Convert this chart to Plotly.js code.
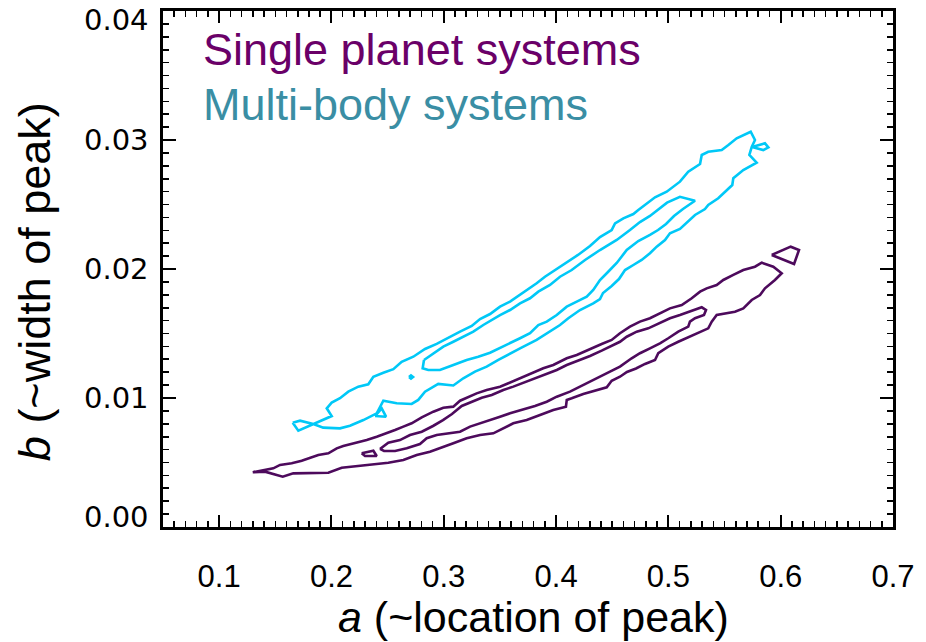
<!DOCTYPE html>
<html>
<head>
<meta charset="utf-8">
<script src="https://cdn.plot.ly/plotly-3.0.1.min.js"></script>
<style>
  html, body { margin: 0; padding: 0; background: #fff; }
  #chart { width: 926px; height: 642px; }
</style>
</head>
<body>
<div id="chart"></div>
<script>
// Posterior contours of the peak parameters a (location) and b (width).

// Multi-body systems: outer confidence contour
const multiOuterA = [0.1655,0.1720,0.1838,0.1927,0.2076,0.2165,0.2284,0.2403,0.2462,0.2581,0.2714,0.2773,0.2833,0.2951,0.3085,0.3174,0.3278,0.3382,0.3486,0.3590,0.3679,0.3827,0.3946,0.4035,0.4109,0.4213,0.4331,0.4391,0.4418,0.4495,0.4560,0.4614,0.4688,0.4762,0.4836,0.4896,0.4970,0.5014,0.5103,0.5192,0.5237,0.5326,0.5355,0.5444,0.5504,0.5569,0.5578,0.5667,0.5786,0.5721,0.5742,0.5771,0.5733,0.5608,0.5534,0.5475,0.5355,0.5297,0.5282,0.5177,0.5103,0.4985,0.4881,0.4807,0.4732,0.4688,0.4599,0.4525,0.4495,0.4391,0.4302,0.4195,0.4088,0.3990,0.3901,0.3827,0.3738,0.3679,0.3590,0.3501,0.3412,0.3323,0.3249,0.3145,0.3040,0.2937,0.2833,0.2729,0.2625,0.2551,0.2462,0.2373,0.2328,0.2239,0.2150,0.2076,0.2002,0.1958,0.2002,0.1824,0.1705,0.1655];
const multiOuterB = [0.00809,0.00824,0.00798,0.00770,0.00765,0.00785,0.00829,0.00881,0.00979,0.00959,0.00954,0.00985,0.01049,0.01109,0.01097,0.01153,0.01204,0.01243,0.01295,0.01347,0.01385,0.01450,0.01514,0.01566,0.01618,0.01682,0.01734,0.01767,0.01814,0.01868,0.01922,0.01992,0.02031,0.02070,0.02122,0.02173,0.02225,0.02277,0.02310,0.02380,0.02419,0.02465,0.02496,0.02548,0.02599,0.02651,0.02703,0.02767,0.02824,0.02884,0.02946,0.03000,0.03064,0.03013,0.02961,0.02922,0.02909,0.02884,0.02814,0.02754,0.02677,0.02599,0.02556,0.02509,0.02457,0.02426,0.02393,0.02354,0.02302,0.02248,0.02178,0.02109,0.02047,0.01992,0.01940,0.01889,0.01837,0.01798,0.01747,0.01708,0.01651,0.01612,0.01558,0.01514,0.01463,0.01419,0.01380,0.01320,0.01281,0.01223,0.01196,0.01165,0.01106,0.01088,0.01049,0.00998,0.00964,0.00920,0.00860,0.00791,0.00747,0.00809];

// Multi-body systems: inner confidence contour
const multiInnerA = [0.2824,0.2907,0.2996,0.3085,0.3174,0.3263,0.3352,0.3427,0.3501,0.3590,0.3679,0.3768,0.3842,0.3946,0.4035,0.4139,0.4258,0.4391,0.4540,0.4658,0.4747,0.4836,0.4908,0.4988,0.5103,0.5237,0.5130,0.5050,0.4979,0.4908,0.4836,0.4732,0.4629,0.4540,0.4462,0.4391,0.4331,0.4273,0.4184,0.4095,0.4006,0.3917,0.3842,0.3768,0.3679,0.3590,0.3501,0.3412,0.3307,0.3204,0.3085,0.2966,0.2862,0.2812,0.2824];
const multiInnerB = [0.01295,0.01347,0.01398,0.01436,0.01475,0.01514,0.01566,0.01605,0.01643,0.01682,0.01734,0.01773,0.01824,0.01876,0.01940,0.01992,0.02070,0.02147,0.02225,0.02302,0.02364,0.02411,0.02457,0.02514,0.02560,0.02529,0.02465,0.02411,0.02349,0.02302,0.02264,0.02217,0.02147,0.02047,0.01977,0.01915,0.01837,0.01785,0.01747,0.01708,0.01643,0.01592,0.01566,0.01502,0.01463,0.01424,0.01385,0.01351,0.01320,0.01295,0.01256,0.01217,0.01217,0.01230,0.01295];

// Multi-body systems: small detached islands of the outer level
const multiIslandsA = [0.5745,0.5860,0.5890,0.5845,0.5745,null,0.2388,0.2447,0.2486,0.2388,null,0.2690,0.2708,0.2726,0.2708,0.2690];
const multiIslandsB = [0.02946,0.02974,0.02943,0.02922,0.02946,null,0.00860,0.00920,0.00855,0.00860,null,0.01163,0.01175,0.01163,0.01151,0.01163];

// Single planet systems: outer confidence contour
const singleOuterA = [0.1299,0.1423,0.1482,0.1542,0.1646,0.1735,0.1809,0.1883,0.1972,0.2047,0.2105,0.2225,0.2314,0.2403,0.2492,0.2566,0.2640,0.2714,0.2804,0.2907,0.2996,0.3085,0.3145,0.3218,0.3293,0.3382,0.3501,0.3575,0.3679,0.3768,0.3886,0.3975,0.4095,0.4184,0.4302,0.4406,0.4495,0.4569,0.4658,0.4747,0.4836,0.4925,0.5014,0.5119,0.5208,0.5282,0.5341,0.5430,0.5489,0.5578,0.5667,0.5771,0.5831,0.5934,0.6009,0.5949,0.5860,0.5816,0.5742,0.5667,0.5593,0.5430,0.5386,0.5355,0.5252,0.5163,0.5088,0.4999,0.4910,0.4881,0.4792,0.4712,0.4631,0.4569,0.4495,0.4451,0.4362,0.4242,0.4139,0.4095,0.4088,0.3975,0.3857,0.3738,0.3619,0.3530,0.3441,0.3323,0.3204,0.3085,0.2966,0.2877,0.2759,0.2640,0.2506,0.2373,0.2225,0.2091,0.1972,0.1660,0.1566,0.1482,0.1408,0.1299];
const singleOuterB = [0.00424,0.00442,0.00455,0.00481,0.00494,0.00514,0.00533,0.00558,0.00571,0.00610,0.00628,0.00654,0.00674,0.00700,0.00726,0.00752,0.00778,0.00804,0.00850,0.00894,0.00925,0.00933,0.00979,0.01010,0.01036,0.01062,0.01088,0.01114,0.01153,0.01191,0.01230,0.01256,0.01308,0.01333,0.01380,0.01419,0.01450,0.01502,0.01553,0.01592,0.01618,0.01657,0.01695,0.01721,0.01773,0.01824,0.01850,0.01876,0.01915,0.01954,0.01992,0.02018,0.02049,0.02018,0.01967,0.01915,0.01850,0.01798,0.01760,0.01695,0.01669,0.01643,0.01592,0.01540,0.01502,0.01463,0.01436,0.01398,0.01347,0.01295,0.01264,0.01229,0.01202,0.01165,0.01134,0.01083,0.01062,0.01031,0.00998,0.00985,0.00933,0.00907,0.00868,0.00829,0.00804,0.00765,0.00726,0.00713,0.00688,0.00649,0.00610,0.00584,0.00558,0.00519,0.00498,0.00486,0.00467,0.00460,0.00421,0.00416,0.00390,0.00411,0.00429,0.00424];

// Single planet systems: inner confidence contour
const singleInnerA = [0.2432,0.2506,0.2610,0.2699,0.2804,0.2904,0.2993,0.3073,0.3160,0.3249,0.3338,0.3427,0.3530,0.3619,0.3708,0.3812,0.3917,0.4006,0.4095,0.4198,0.4302,0.4406,0.4495,0.4569,0.4629,0.4718,0.4821,0.4925,0.5014,0.5103,0.5192,0.5297,0.5335,0.5317,0.5237,0.5192,0.5177,0.5088,0.4999,0.4925,0.4836,0.4747,0.4673,0.4569,0.4480,0.4391,0.4302,0.4213,0.4124,0.4006,0.3917,0.3812,0.3679,0.3590,0.3501,0.3412,0.3323,0.3234,0.3145,0.3040,0.2937,0.2848,0.2788,0.2670,0.2566,0.2468,0.2432];
const singleInnerB = [0.00605,0.00654,0.00674,0.00713,0.00739,0.00783,0.00829,0.00876,0.00938,0.00971,0.01002,0.01023,0.01062,0.01088,0.01119,0.01153,0.01186,0.01217,0.01256,0.01289,0.01326,0.01367,0.01403,0.01436,0.01475,0.01514,0.01540,0.01584,0.01618,0.01643,0.01669,0.01703,0.01682,0.01643,0.01618,0.01592,0.01553,0.01514,0.01463,0.01424,0.01385,0.01347,0.01308,0.01243,0.01204,0.01165,0.01126,0.01088,0.01049,0.01010,0.00971,0.00938,0.00907,0.00881,0.00855,0.00829,0.00804,0.00778,0.00739,0.00726,0.00713,0.00688,0.00643,0.00610,0.00589,0.00589,0.00605];

// Single planet systems: small detached islands of the outer level
const singleIslandsA = [0.5920,0.6089,0.6163,0.6119,0.5920,null,0.2269,0.2373,0.2403,0.2299,0.2269];
const singleIslandsB = [0.02109,0.02173,0.02147,0.02039,0.02109,null,0.00571,0.00591,0.00550,0.00550,0.00571];

const seriesNames = ['Single planet systems', 'Multi-body systems'];

// Axis ticks and their labels
const xTickVals = [0.1, 0.2, 0.3, 0.4, 0.5, 0.6, 0.7];
const xTickText = ['0.1', '0.2', '0.3', '0.4', '0.5', '0.6', '0.7'];
const yTickVals = [0.00, 0.01, 0.02, 0.03, 0.04];
const yTickText = ['0.00', '0.01', '0.02', '0.03', '0.04'];

const singleLine = '#4d0a5c';
const multiLine = '#00c8f7';
const singleText = '#6a0068';
const multiText = '#3a8ea4';

function contour(x, y, color, name) {
  return {
    type: 'scatter', mode: 'lines', x: x, y: y, name: name,
    line: { color: color, width: 2.6, shape: 'linear' },
    hoverinfo: 'skip', showlegend: false, connectgaps: false
  };
}

const traces = [
  contour(singleOuterA, singleOuterB, singleLine, seriesNames[0]),
  contour(singleInnerA, singleInnerB, singleLine, seriesNames[0]),
  contour(singleIslandsA, singleIslandsB, singleLine, seriesNames[0]),
  contour(multiOuterA, multiOuterB, multiLine, seriesNames[1]),
  contour(multiInnerA, multiInnerB, multiLine, seriesNames[1]),
  contour(multiIslandsA, multiIslandsB, multiLine, seriesNames[1])
];

const textFont = 'Liberation Sans, Arial, Helvetica, sans-serif';

// y tick labels are placed as annotations so the two end labels can sit
// just inside the axis span, as in the plotting package's own style
const yLabelAnnotations = yTickVals.map((v, i) => ({
  xref: 'paper', yref: 'y', x: -0.016, y: v, xanchor: 'right', yanchor: 'middle',
  yshift: i === 0 ? 10 : (i === yTickVals.length - 1 ? -9 : 0),
  text: yTickText[i], showarrow: false,
  font: { family: 'DejaVu Sans, Verdana, sans-serif', size: 29, color: '#000' }
}));

const layout = {
  width: 926, height: 642,
  margin: { l: 163, r: 33, t: 11, b: 115 },
  paper_bgcolor: '#ffffff', plot_bgcolor: '#ffffff',
  showlegend: false,
  xaxis: {
    range: [0.05, 0.700001],
    tickmode: 'array', tickvals: xTickVals, ticktext: xTickText,
    ticks: 'inside', ticklen: 12, tickwidth: 2, tickcolor: '#000',
    mirror: 'allticks', showline: true, linewidth: 2.6, linecolor: '#000',
    showgrid: false, zeroline: false,
    minor: { tick0: 0, dtick: 0.01, ticks: 'inside', ticklen: 6, tickwidth: 1.6, tickcolor: '#000', showgrid: false },
    tickfont: { family: 'Liberation Sans Narrow, Arial Narrow, ' + textFont, size: 31, color: '#000' },
    ticklabelstandoff: 20,
    ticklabeloverflow: 'allow'
  },
  yaxis: {
    range: [0, 0.0400001],
    tickmode: 'array', tickvals: yTickVals, ticktext: yTickText,
    showticklabels: false,
    ticks: 'inside', ticklen: 13, tickwidth: 2, tickcolor: '#000',
    mirror: 'allticks', showline: true, linewidth: 2.6, linecolor: '#000',
    showgrid: false, zeroline: false,
    minor: { tick0: 0, dtick: 0.001, ticks: 'inside', ticklen: 6, tickwidth: 1.6, tickcolor: '#000', showgrid: false }
  },
  annotations: yLabelAnnotations.concat([
    { xref: 'paper', yref: 'paper', x: 0.052, y: 0.926, xanchor: 'left', yanchor: 'middle',
      text: seriesNames[0], showarrow: false,
      font: { family: textFont, size: 45, color: singleText } },
    { xref: 'paper', yref: 'paper', x: 0.052, y: 0.818, xanchor: 'left', yanchor: 'middle',
      text: seriesNames[1], showarrow: false,
      font: { family: textFont, size: 45, color: multiText } },
    { xref: 'paper', yref: 'paper', x: 0.508, y: -0.174, xanchor: 'center', yanchor: 'middle',
      text: '<i>a</i> (~location of peak)', showarrow: false,
      font: { family: textFont, size: 43, color: '#000' } },
    { xref: 'paper', yref: 'paper', x: -0.175, y: 0.475, xanchor: 'center', yanchor: 'middle',
      text: '<i>b</i> (~width of peak)', showarrow: false, textangle: -90,
      font: { family: textFont, size: 45, color: '#000' } }
  ])
};

Plotly.newPlot('chart', traces, layout, { displayModeBar: false, staticPlot: true });
</script>
</body>
</html>
